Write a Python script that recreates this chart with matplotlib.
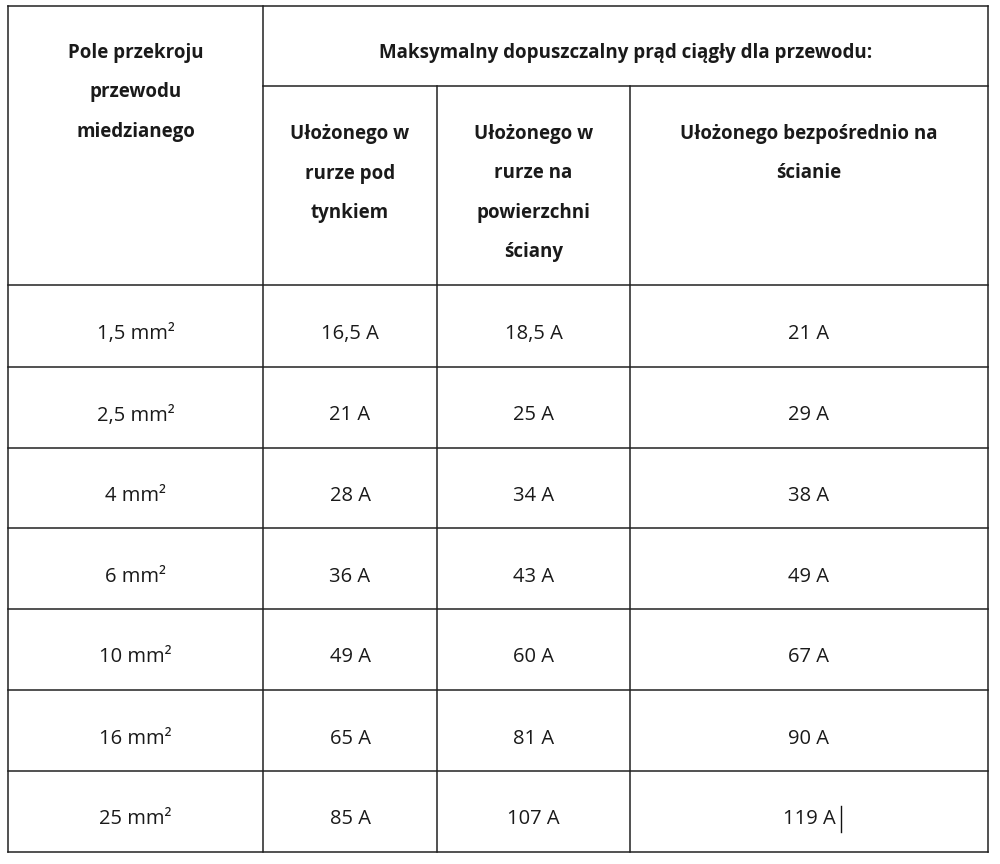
import matplotlib
matplotlib.use("Agg")
import matplotlib.pyplot as plt

# ── data ────────────────────────────────────────────────────────────────
title = "Maksymalny dopuszczalny prąd ciągły dla przewodu:"
first_header = ["Pole przekroju", "przewodu", "miedzianego"]
sub_headers = [
    ["Ułożonego w", "rurze pod", "tynkiem"],
    ["Ułożonego w", "rurze na", "powierzchni", "ściany"],
    ["Ułożonego bezpośrednio na", "ścianie"],
]
sizes = ["1,5 mm²", "2,5 mm²", "4 mm²", "6 mm²", "10 mm²", "16 mm²", "25 mm²"]
under_plaster = ["16,5 A", "21 A", "28 A", "36 A", "49 A", "65 A", "85 A"]
on_surface = ["18,5 A", "25 A", "34 A", "43 A", "60 A", "81 A", "107 A"]
on_wall = ["21 A", "29 A", "38 A", "49 A", "67 A", "90 A", "119 A"]

# ── layout (pixels) ─────────────────────────────────────────────────────
col_x = [8, 263, 437, 630, 988]
row_y = [285, 367, 448, 528, 609, 690, 771, 852]
top, mid_line = 6, 86
line_gap = 39.5
lc = "#222222"

fig = plt.figure(figsize=(10, 8.64), dpi=100)
ax = fig.add_axes([0, 0, 1, 1])
ax.set_xlim(0, 1000)
ax.set_ylim(864, 0)
ax.axis("off")

kw = dict(color=lc, lw=1.1)
for x in col_x:
    y0 = mid_line if x in (437, 630) else top
    ax.plot([x, x], [y0, row_y[-1]], **kw)
ax.plot([col_x[0], col_x[-1]], [top, top], **kw)
ax.plot([col_x[1], col_x[-1]], [mid_line, mid_line], **kw)
for y in row_y:
    ax.plot([col_x[0], col_x[-1]], [y, y], **kw)

hfont = dict(family="Open Sans", fontsize=13.5, fontweight="bold",
             color="#1a1a1a", ha="center", va="center")
dfont = dict(family="Open Sans", fontsize=14.5, color="#1a1a1a",
             ha="center", va="center")

ax.text((col_x[1] + col_x[-1]) / 2, 53, title, **hfont)
for i, t in enumerate(first_header):
    ax.text((col_x[0] + col_x[1]) / 2, 53 + i * line_gap, t, **hfont)
for c, lines in enumerate(sub_headers):
    cx = (col_x[c + 1] + col_x[c + 2]) / 2
    for i, t in enumerate(lines):
        ax.text(cx, 134 + i * line_gap, t, **hfont)

columns = [sizes, under_plaster, on_surface, on_wall]
for c, vals in enumerate(columns):
    cx = (col_x[c] + col_x[c + 1]) / 2
    for r, v in enumerate(vals):
        cy = (row_y[r] + row_y[r + 1]) / 2 + 8
        ax.text(cx, cy, v, **dfont)

# text cursor after the last value
ax.plot([841, 841], [806, 832], color="#111111", lw=1)

fig.savefig("out.png", dpi=100)
